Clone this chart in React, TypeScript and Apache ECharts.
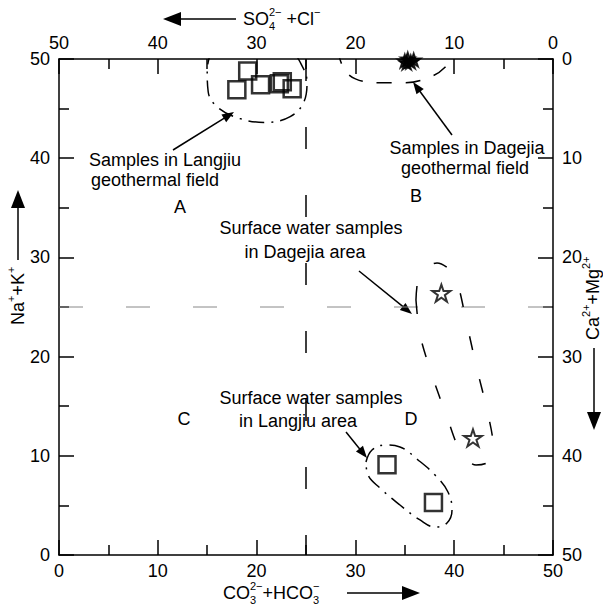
import React, { useEffect, useRef } from "react";
import * as echarts from "echarts";

const FONT = "'Liberation Sans', Arial, Helvetica, sans-serif";

// ---- data (in diagram units) ----
const axisTicks = [0, 10, 20, 30, 40, 50];
const langjiuGeo = [[18.0, 46.9], [19.1, 48.8], [20.4, 47.4], [22.3, 47.5], [22.6, 47.7], [23.6, 47.0]];
const dagejiaGeo = [[35.0, 49.8], [35.3, 50.0], [35.6, 49.7], [35.9, 49.9], [35.2, 49.6]];
const dagejiaSurf = [[38.7, 26.4], [41.9, 11.8]];
const langjiuSurf = [[33.2, 9.1], [37.9, 5.3]];

const envLangjiuGeo = [[15.5, 51.0], [15.0, 48.9], [15.1, 46.7], [16.1, 45.1], [18.3, 44.0], [20.9, 43.6], [23.4, 44.2], [24.8, 45.7], [25.1, 47.7], [24.4, 49.7], [23.4, 51.1]];
const envDagejiaGeo = [[28.2, 51.0], [28.8, 49.1], [30.0, 48.0], [32.5, 47.6], [35.0, 47.6], [37.6, 48.2], [39.1, 49.2], [39.8, 50.4]];
const envDagejiaSurf = [[36.13, 25.71], [36.34, 27.72], [37.04, 28.93], [38.26, 29.44], [39.57, 28.73], [40.38, 27.22], [41.19, 23.69], [42.21, 19.15], [43.32, 14.62], [43.93, 11.09], [43.42, 9.38], [42.21, 9.07], [40.79, 10.08], [39.37, 13.61], [37.75, 18.15], [36.54, 22.18], [36.13, 25.71]];
const envLangjiuSurf = [[31.07, 9.38], [31.68, 10.58], [33.0, 11.09], [34.51, 10.89], [36.34, 9.58], [38.06, 8.06], [39.37, 6.35], [39.78, 4.54], [39.27, 3.23], [38.06, 2.82], [36.54, 3.53], [34.51, 5.04], [32.49, 6.75], [31.28, 8.06], [31.07, 9.38]];
const midV = [[25, 50], [25, 0]];
const midH = [[0, 25], [50, 25]];

const STAR = "path://M50,2 L61.8,37.6 L99,37.6 L68.9,59.6 L80.4,95 L50,73 L19.6,95 L31.1,59.6 L1,37.6 L38.2,37.6 Z";

function tw(text: string, size: number) {
  const c = document.createElement("canvas").getContext("2d")!;
  c.font = `${size}px ${FONT}`;
  return c.measureText(text).width;
}

function txt(text: string, x: number, y: number, size = 18, align = "center") {
  return {
    type: "text", x, y, silent: true,
    style: { text, fontSize: size, fontFamily: FONT, fill: "#000", textAlign: align, textVerticalAlign: "middle", align, verticalAlign: "middle" },
  };
}

function arrow(x1: number, y1: number, x2: number, y2: number, hl = 12, hw = 9, lw = 1.5) {
  const dx = x2 - x1, dy = y2 - y1;
  const L = Math.hypot(dx, dy);
  const ux = dx / L, uy = dy / L;
  const px = -uy, py = ux;
  const bx = x2 - ux * hl, by = y2 - uy * hl;
  return [
    { type: "line", silent: true, shape: { x1, y1, x2: bx + ux * 2, y2: by + uy * 2 }, style: { stroke: "#000", lineWidth: lw } },
    { type: "polygon", silent: true, shape: { points: [[x2, y2], [bx + px * hw / 2, by + py * hw / 2], [bx - px * hw / 2, by - py * hw / 2]] }, style: { fill: "#000" } },
  ];
}

type Part = { m?: string; sup?: string; sub?: string };
function composite(parts: Part[], x: number, y: number, rotation = 0) {
  const children: any[] = [];
  let cx = 0;
  const S = 18, s = 11;
  for (const p of parts) {
    if (p.m) {
      children.push(txt(p.m, cx, 0, S, "left"));
      cx += tw(p.m, S);
    } else {
      let w = 0;
      if (p.sup) { children.push(txt(p.sup, cx, -7, s, "left")); w = Math.max(w, tw(p.sup, s)); }
      if (p.sub) { children.push(txt(p.sub, cx, 7, s, "left")); w = Math.max(w, tw(p.sub, s)); }
      cx += w;
    }
  }
  return { type: "group", x, y, rotation, children };
}

function axisCommon(position: string, inverse: boolean, isX: boolean) {
  return {
    type: "value", position, inverse, min: 0, max: 50, interval: 10,
    axisLine: { show: true, onZero: false, lineStyle: { color: "#000", width: 1.5 } },
    axisTick: { show: true, inside: true, length: 15, lineStyle: { color: "#000", width: 1.5 } },
    minorTick: { show: true, splitNumber: 2, length: 10, lineStyle: { color: "#000", width: 1.5 } },
    splitLine: { show: false },
    axisLabel: {
      fontSize: 18, color: "#000", fontFamily: FONT, margin: isX ? 7 : 9,
      formatter: (v: number) => (axisTicks.includes(v) ? String(v) : ""),
    },
  };
}

function envelope(data: number[][], type: any, smooth = 0.4) {
  return {
    type: "line", data, smooth, symbol: "none", silent: true, clip: true,
    lineStyle: { color: "#000", width: 1.5, type },
    z: 3,
  };
}

function buildOption() {
  const graphics: any[] = [
    // axis titles
    ...arrow(236, 19, 163, 19, 18, 14, 1.5),
    composite([{ m: "SO" }, { sup: "2\u2212", sub: "4" }, { m: " +Cl" }, { sup: "\u2212" }], 243, 19),
    composite([{ m: "CO" }, { sup: "2\u2212", sub: "3" }, { m: "+HCO" }, { sup: "\u2212", sub: "3" }], 223, 593),
    ...arrow(347, 593, 420, 593, 18, 14, 1.5),
    ...arrow(18, 260, 18, 190, 18, 14, 1.5),
    composite([{ m: "Na" }, { sup: "+" }, { m: "+K" }, { sup: "+" }], 18, 325, Math.PI / 2),
    composite([{ m: "Ca" }, { sup: "2+" }, { m: "+Mg" }, { sup: "2+" }], 593, 340, Math.PI / 2),
    ...arrow(594, 348, 594, 430, 18, 14, 1.5),
    // annotations
    txt("Samples in Langjiu", 165, 160),
    txt("geothermal field", 155, 180),
    ...arrow(173, 150, 234, 112),
    txt("Samples in Dagejia", 467, 148),
    txt("geothermal field", 465, 168),
    ...arrow(452, 135, 413, 82),
    txt("Surface water samples", 311, 228),
    txt("in Dagejia area", 305, 252),
    ...arrow(359, 271, 412, 314),
    txt("Surface water samples", 311, 398),
    txt("in Langjiu area", 298, 421),
    ...arrow(346, 432, 367, 458),
    txt("A", 180, 207),
    txt("B", 416, 196),
    txt("C", 184, 419),
    txt("D", 411, 419),
  ];

  return {
    animation: false,
    backgroundColor: "#fff",
    grid: { left: 59, top: 59, width: 494, height: 496, containLabel: false },
    xAxis: [axisCommon("bottom", false, true), axisCommon("top", true, true)],
    yAxis: [axisCommon("left", false, false), axisCommon("right", true, false)],
    series: [
      { type: "line", data: midV, symbol: "none", silent: true, lineStyle: { color: "#000", width: 1.5, type: [22, 46] }, z: 1 },
      { type: "line", data: midH, symbol: "none", silent: true, lineStyle: { color: "#888", width: 1, type: [24, 43] }, z: 1 },
      envelope(envLangjiuGeo, [16, 7, 2, 7]),
      envelope(envDagejiaGeo, [15, 14]),
      envelope(envDagejiaSurf, [14, 30], 0.3),
      envelope(envLangjiuSurf, [16, 7, 2, 7]),
      {
        type: "scatter", data: langjiuGeo, symbol: "rect", symbolSize: 17, silent: true, z: 5,
        itemStyle: { color: "rgba(0,0,0,0)", borderColor: "#000", borderWidth: 2.5 },
      },
      {
        type: "scatter", data: langjiuSurf, symbol: "rect", symbolSize: 17, silent: true, z: 5,
        itemStyle: { color: "rgba(0,0,0,0)", borderColor: "#000", borderWidth: 2.5 },
      },
      {
        type: "scatter", data: dagejiaGeo, symbol: STAR, symbolSize: 15, symbolKeepAspect: true, silent: true, z: 5,
        itemStyle: { color: "#000", borderColor: "#000", borderWidth: 1.5 },
      },
      {
        type: "scatter", data: dagejiaSurf, symbol: STAR, symbolSize: 18, symbolKeepAspect: true, silent: true, z: 5,
        itemStyle: { color: "#fff", borderColor: "#000", borderWidth: 2 },
      },
    ],
    graphic: graphics,
  };
}

export default function App() {
  const ref = useRef<HTMLDivElement>(null);
  useEffect(() => {
    const chart = echarts.init(ref.current!, null, { renderer: "svg" });
    chart.setOption(buildOption() as any);
    return () => chart.dispose();
  }, []);
  return <div ref={ref} style={{ position: "fixed", left: 0, top: 0, width: 603, height: 610, background: "#fff" }} />;
}
